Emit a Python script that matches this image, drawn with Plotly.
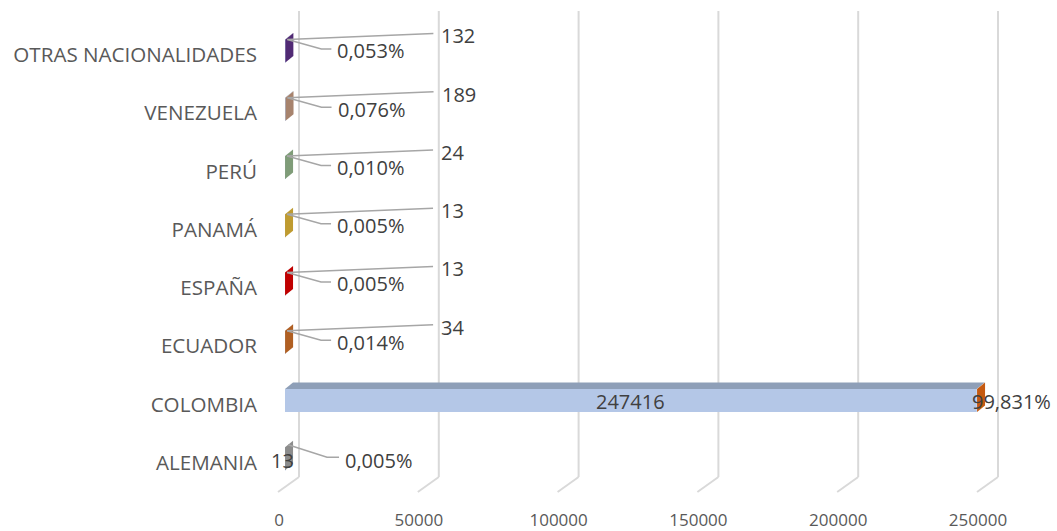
import plotly.graph_objects as go

# ---------------- data ----------------
categories = ["ALEMANIA", "COLOMBIA", "ECUADOR", "ESPAÑA", "PANAMÁ", "PERÚ",
              "VENEZUELA", "OTRAS NACIONALIDADES"]
values = [13, 247416, 34, 13, 13, 24, 189, 132]
percents = [0.005, 99.831, 0.014, 0.005, 0.005, 0.010, 0.076, 0.053]
x_ticks = [0, 50000, 100000, 150000, 200000, 250000]

# ---------------- style ----------------
cap_colors = ["#8C8C8C", "#C55A11", "#B05F22", "#C00000", "#BF9B30",
              "#7F9C78", "#A7836D", "#512A74"]
label_modes = ["on_cap", "inside", "leader", "leader", "leader", "leader",
               "leader", "leader"]
FONT = "Open Sans"
W, H = 1057, 531
M_L, M_R, M_T, M_B = 262, 15, 0, 31
X0_PX, XMAX_PX = 285, 984          # pixel of 0 and of last tick (front plane)
ROW_PX = 58.25
TOP_ROW_PX = 55                   # centre of top category
FACE_H = 23                       # bar front-face height (px)
FACE_UP = 0.07                    # face centre shift (index units)
DX, DY = 8, 6.5                   # 3D depth offset (px)
GRID_SHIFT = 14                   # back wall shift (px)
TXT_FIX = -0.5                    # vertical text centring correction (px)
LEAD_COLOR = "#A6A6A6"

k = x_ticks[-1] / (XMAX_PX - X0_PX)          # data units per px
plot_h = H - M_T - M_B
x_range = [-(X0_PX - M_L) * k, (W - M_R - X0_PX) * k]
n = len(categories)
y_top = (n - 1) + (TOP_ROW_PX - M_T) / ROW_PX
y_bot = y_top - plot_h / ROW_PX

idx = list(range(n))
bw = FACE_H / ROW_PX

fig = go.Figure()
fig.add_trace(go.Bar(
    y=idx, x=values, orientation="h", width=bw,
    offset=FACE_UP - bw / 2,
    marker=dict(color="#B4C7E7", line=dict(width=0)),
    hoverinfo="skip", showlegend=False))

shapes = []
# back-wall gridlines with floor diagonals
for t in x_ticks:
    shapes.append(dict(type="line", xref="x", yref="paper", xsizemode="pixel",
                       ysizemode="pixel", xanchor=t, yanchor=0,
                       x0=GRID_SHIFT, x1=GRID_SHIFT, y0=23, y1=489,
                       line=dict(color="#D9D9D9", width=2), layer="below"))
    shapes.append(dict(type="line", xref="x", yref="paper", xsizemode="pixel",
                       ysizemode="pixel", xanchor=t, yanchor=0,
                       x0=GRID_SHIFT, x1=-7, y0=23, y1=8,
                       line=dict(color="#D9D9D9", width=2), layer="below"))

dxd = DX * k
hh = FACE_H / 2
lab_font = dict(family=FONT, size=20, color="#404040")
ann = []


def leader(v, i, path):
    shapes.append(dict(type="path", xref="x", yref="y", xsizemode="pixel",
                       ysizemode="pixel", xanchor=v, yanchor=i + FACE_UP,
                       path=path, line=dict(color=LEAD_COLOR, width=1.5),
                       layer="above"))


def label(v, i, text, dx, dy, anchor="left"):
    ann.append(dict(x=v, y=i + FACE_UP, text=text, showarrow=False,
                    xanchor=anchor, yanchor="middle", xshift=dx,
                    yshift=dy + TXT_FIX, font=lab_font))


for i, (v, p) in enumerate(zip(values, percents)):
    # top face of the bar
    shapes.append(dict(type="path", xref="x", yref="y", ysizemode="pixel",
                       yanchor=i + FACE_UP,
                       path=f"M0,{hh} L{v},{hh} L{v + dxd},{hh + DY} L{dxd},{hh + DY} Z",
                       fillcolor="#8E9FB8", line=dict(width=0), layer="above"))
    # coloured end cap (percentage series)
    shapes.append(dict(type="path", xref="x", yref="y", xsizemode="pixel",
                       ysizemode="pixel", xanchor=v + p, yanchor=i + FACE_UP,
                       path=f"M0,{-hh} L0,{hh} L{DX},{hh + DY} L{DX},{-hh + DY} Z",
                       fillcolor=cap_colors[i], line=dict(width=0), layer="above"))

for i, (v, p) in enumerate(zip(values, percents)):
    vt = f"{v}"
    pt = f"{p:.3f}".replace(".", ",") + "%"
    mode = label_modes[i]
    end = v + p
    if mode == "leader":
        leader(end, i, f"M2,{hh} L148,{hh + 6}")
        leader(end, i, f"M2,{hh} L36,{hh - 9.5} L46,{hh - 9.5}")
        label(end, i, vt, 154, hh + 4)
        label(end, i, pt, 50, hh - 11)
    elif mode == "inside":
        label(v / 2, i, vt, 0, -1, anchor="center")
        label(end, i, pt, -7, -1)
    else:
        leader(end, i, f"M3,{hh + 2.5} L42,{hh - 10} L54,{hh - 10}")
        label(end, i, vt, -3, hh - 12.5, anchor="center")
        label(end, i, pt, 58, hh - 12.5)

fig.update_layout(
    width=W, height=H,
    margin=dict(l=M_L, r=M_R, t=M_T, b=M_B, pad=0, autoexpand=False),
    paper_bgcolor="white", plot_bgcolor="white",
    barmode="overlay", showlegend=False,
    shapes=shapes, annotations=ann,
    xaxis=dict(range=x_range, tickvals=x_ticks,
               ticktext=[str(t) for t in x_ticks], automargin=False,
               showgrid=False, zeroline=False, showline=False, ticks="",
               tickfont=dict(family=FONT, size=17, color="#595959"),
               ticklabelstandoff=8, ticklabelshift=-6, fixedrange=True),
    yaxis=dict(range=[y_bot, y_top], tickvals=idx, ticktext=categories,
               automargin=False,
               showgrid=False, zeroline=False, showline=False, ticks="",
               tickfont=dict(family=FONT, size=20.6, color="#595959"),
               ticklabelstandoff=4, fixedrange=True),
)

fig.write_html("out.html", config={"displayModeBar": False},
               post_script="document.body.style.margin='0';"
                           "document.body.style.overflow='hidden';")
